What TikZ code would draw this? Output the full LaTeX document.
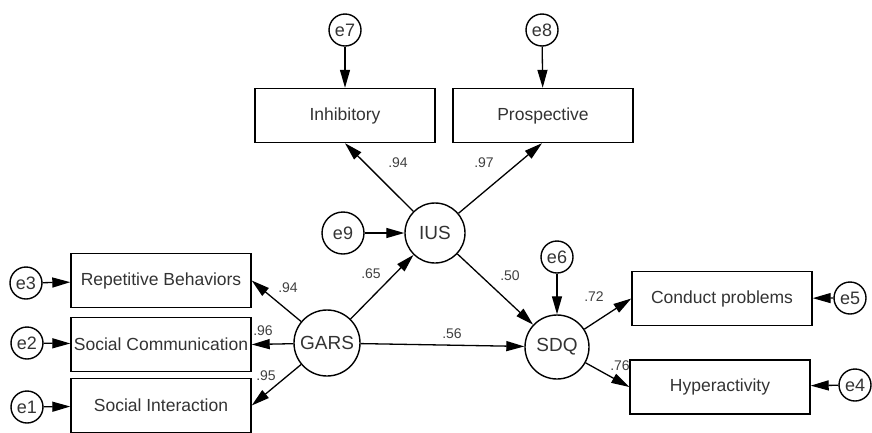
\documentclass[tikz,border=0pt]{standalone}
\usepackage{fontspec}
\setmainfont{Liberation Sans}
\usetikzlibrary{arrows.meta}
\begin{document}
\begin{tikzpicture}[x=1pt,y=-1pt,
  obs/.style={draw, line width=1.4pt, minimum width=180pt, minimum height=54pt, inner sep=0pt, font=\fontsize{17.5}{20}\selectfont, text=black!80},
  lat/.style={draw, circle, line width=1.4pt, minimum size=64pt, inner sep=0pt, font=\fontsize{19}{21}\selectfont, text=black!80},
  err/.style={draw, circle, line width=1.4pt, minimum size=32pt, inner sep=0pt, font=\fontsize{18}{20}\selectfont, text=black!80},
  path/.style={line width=1.3pt, -{Triangle[length=18pt,width=10pt]}},
  coef/.style={font=\fontsize{14}{16}\selectfont, text=black!75, inner sep=1pt}]
\useasboundingbox (0,0) rectangle (872,432);
% observed
\node[obs] (inh) at (345,115.5) {Inhibitory};
\node[obs] (pro) at (543,115.5) {Prospective};
\node[obs] (rep) at (161,280.5) {Repetitive Behaviors};
\node[obs] (soc) at (161,344.5) {Social Communication};
\node[obs] (sin) at (161,405.5) {Social Interaction};
\node[obs] (con) at (722,298.5) {Conduct problems};
\node[obs] (hyp) at (720,387) {Hyperactivity};
% latent
\node[lat, minimum size=60pt] (ius) at (435,233) {IUS};
\node[lat, minimum size=66pt] (gars) at (327,343) {GARS};
\node[lat, minimum size=64pt] (sdq) at (557,347) {SDQ};
% errors
\node[err] (e7) at (345,30) {e7};
\node[err] (e8) at (542,30) {e8};
\node[err, minimum size=42pt] (e9) at (343,233) {e9};
\node[err] (e6) at (557,257) {e6};
\node[err] (e3) at (26,283) {e3};
\node[err] (e2) at (27,343) {e2};
\node[err] (e1) at (27,407) {e1};
\node[err] (e5) at (850,298) {e5};
\node[err] (e4) at (855,385) {e4};
% connectors
\draw[path] (e7) -- (inh);
\draw[path] (e8) -- (pro);
\draw[path] (ius) -- (e7 |- inh.south);
\draw[path] (ius) -- (e8 |- pro.south);
\draw[path] (e9) -- (ius);
\draw[path] (gars) -- (ius);
\draw[path] (gars) -- (sdq);
\draw[path] (ius) -- (sdq);
\draw[path] (e6) -- (sdq);
\draw[path] (gars) -- (rep.east);
\draw[path] (gars) -- (soc.east);
\draw[path] (gars) -- (sin.east);
\draw[path] (e3) -- (rep);
\draw[path] (e2) -- (soc);
\draw[path] (e1) -- (sin);
\draw[path] (sdq) -- (con.west);
\draw[path] (sdq) -- (hyp.west);
\draw[path] (e5) -- (con);
\draw[path] (e4) -- (hyp);
% coefficients
\node[coef] (c1) at (398,163) {.94};
\node[coef] (c2) at (484,163) {.97};
\node[coef] (c3) at (371,274) {.65};
\node[coef] (c4) at (510,276) {.50};
\node[coef] (c5) at (452,334) {.56};
\node[coef] (c6) at (288,288) {.94};
\node[coef] (c7) at (263,331) {.96};
\node[coef] (c8) at (266,376) {.95};
\node[coef] (c9) at (594,297) {.72};
\node[coef] (c10) at (620,366) {.76};
\end{tikzpicture}
\end{document}
